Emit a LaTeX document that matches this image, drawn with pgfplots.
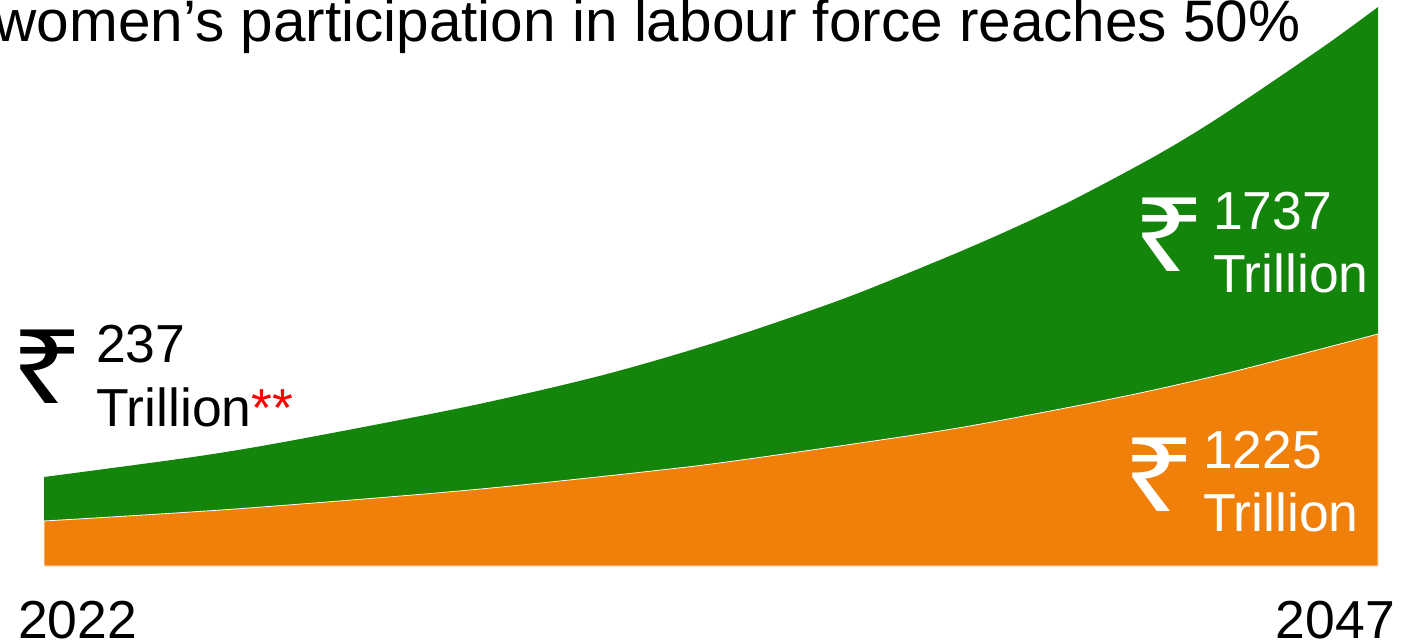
\documentclass[border=0pt]{standalone}
\usepackage{graphicx}
\usepackage{pgfplots}
\usepackage{fontspec}
\setmainfont{Liberation Sans}
\newfontfamily\rupee{Noto Sans}
\pgfplotsset{compat=1.18}
\definecolor{gr}{RGB}{19,133,10}
\definecolor{og}{RGB}{240,128,10}
\newcommand{\fs}{\fontsize{53.5}{62}\selectfont}
\newcommand{\ts}{\fontsize{58.5}{66}\selectfont}
\newcommand{\rs}{\scalebox{1.26}[1]{\rupee\fontsize{103}{103}\selectfont ₹}}
\pgfplotstableread{
x y
2022.00 89
2024.92 110
2026.80 127
2029.98 160
2032.48 191
2034.67 225
2036.92 266
2038.79 306
2040.05 335
2041.28 366
2042.86 411
2044.09 451
2045.97 519
2047.00 559
}\greentop
\pgfplotstableread{
x y
2022.00 45
2025.58 57
2029.98 76
2033.73 97
2035.60 110
2038.79 135
2040.66 153
2042.54 173
2044.41 196
2047.00 232
}\orangetop
\begin{document}
\begin{tikzpicture}[x=1pt,y=1pt]
\path[use as bounding box] (0,0) rectangle (1412,643);
\begin{axis}[at={(44pt,77pt)},anchor=south west,scale only axis,width=1334pt,height=561pt,
  xmin=2022,xmax=2047,ymin=0,ymax=561,hide axis,clip=false]
\addplot[fill=gr,draw=none,smooth] table[x=x,y=y]{\greentop} \closedcycle;
\addplot[fill=og,draw=white,line width=0.8pt,smooth] table[x=x,y=y]{\orangetop} \closedcycle;
\end{axis}
\node[anchor=base east,inner sep=0pt,font=\ts] at (1301,601) {women’s participation in labour force reaches 50\%};
\node[anchor=base west,inner sep=0pt,font=\fs] at (18,5) {2022};
\node[anchor=base east,inner sep=0pt,font=\fs] at (1395,5) {2047};
\node[anchor=base west,inner sep=0pt,font=\fs] at (96,280) {237};
\node[anchor=base west,inner sep=0pt,font=\fs] at (96,217) {Trillion\textcolor{red}{**}};
\node[anchor=base west,inner sep=0pt] at (9.8,240) {\rs};
\node[anchor=base west,inner sep=0pt,font=\fs,text=white] at (1213,413) {1737};
\node[anchor=base west,inner sep=0pt,font=\fs,text=white] at (1213,350) {Trillion};
\node[anchor=base west,inner sep=0pt,text=white] at (1131.8,371) {\rs};
\node[anchor=base west,inner sep=0pt,font=\fs,text=white] at (1203,175) {1225};
\node[anchor=base west,inner sep=0pt,font=\fs,text=white] at (1203,112) {Trillion};
\node[anchor=base west,inner sep=0pt,text=white] at (1121.8,132) {\rs};
\end{tikzpicture}
\end{document}
